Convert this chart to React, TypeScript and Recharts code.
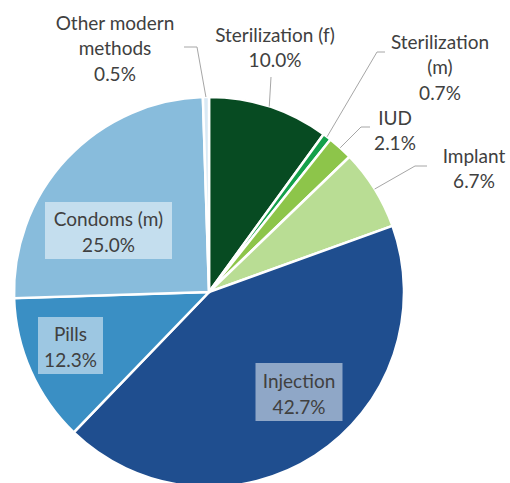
import React from 'react';
import { PieChart, Pie, Cell } from 'recharts';

// contraceptive method mix, clockwise from 12 o'clock
const methods = [
  'Sterilization (f)',
  'Sterilization (m)',
  'IUD',
  'Implant',
  'Injection',
  'Pills',
  'Condoms (m)',
  'Other modern methods',
];
const shares = [10.0, 0.7, 2.1, 6.7, 42.7, 12.3, 25.0, 0.5];
const labelText = [
  ['Sterilization (f)'],
  ['Sterilization', '(m)'],
  ['IUD'],
  ['Implant'],
  ['Injection'],
  ['Pills'],
  ['Condoms (m)'],
  ['Other modern', 'methods'],
];
const colors = ['#074b22', '#14a04a', '#8dc54a', '#b9dd94', '#1f4e8f', '#3a8fc4', '#88bcdc', '#d9e9f5'];

const data = methods.map((name, i) => ({ name, value: shares[i] }));

// label placement relative to pie centre
type Layout = {
  x: number;
  y: number;
  inside?: boolean;
  w?: number;
  h?: number;
  leader?: [number, number][];
};
const layout: Layout[] = [
  { x: 66, y: -258, leader: [[62, -215]] },
  { x: 231, y: -251, leader: [[168, -240], [176, -240]] },
  { x: 186, y: -175, leader: [[152, -165], [161, -165]] },
  { x: 265, y: -137, leader: [[206, -126], [218, -126]] },
  { x: 90, y: 100, inside: true, w: 87, h: 58 },
  { x: -138.5, y: 53.5, inside: true, w: 65, h: 57 },
  { x: -100.5, y: -61.5, inside: true, w: 127, h: 57 },
  { x: -94, y: -270, leader: [[-12, -245], [-25, -245]] },
];

const FONT = 'Lato, sans-serif';
const FONT_SIZE = 19;
const TEXT = '#404040';
const LINE_H = 25.5;
const RAD = Math.PI / 180;

const renderLabel = (props: any) => {
  const { cx, cy, midAngle, outerRadius, index, value } = props;
  const l = layout[index];
  const lines = [...labelText[index], `${value.toFixed(1)}%`];
  if (l.inside) {
    const bx = cx + l.x;
    const by = cy + l.y;
    return (
      <g key={`lbl-${index}`}>
        <rect x={bx - l.w! / 2} y={by - l.h! / 2} width={l.w} height={l.h} fill="#ffffff" fillOpacity={0.5} />
        {lines.map((t, k) => (
          <text
            key={k}
            x={bx}
            y={by - 12 + k * 26}
            textAnchor="middle"
            dominantBaseline="central"
            fontFamily={FONT}
            fontSize={FONT_SIZE}
            fill={TEXT}
          >
            {t}
          </text>
        ))}
      </g>
    );
  }
  const sx = cx + outerRadius * Math.cos(-midAngle * RAD);
  const sy = cy + outerRadius * Math.sin(-midAngle * RAD);
  const pts = [[sx, sy], ...(l.leader || []).map(([px, py]) => [cx + px, cy + py])];
  return (
    <g key={`lbl-${index}`}>
      <polyline points={pts.map((p) => p.join(',')).join(' ')} fill="none" stroke="#a6a6a6" strokeWidth={1} />
      {lines.map((t, k) => (
        <text
          key={k}
          x={cx + l.x}
          y={cy + l.y + k * LINE_H}
          textAnchor="middle"
          dominantBaseline="central"
          fontFamily={FONT}
          fontSize={FONT_SIZE}
          fill={TEXT}
        >
          {t}
        </text>
      ))}
    </g>
  );
};

export default function App() {
  return (
    <div style={{ position: 'absolute', left: 0, top: 0, width: 510, height: 483, background: '#fff' }}>
      <PieChart width={510} height={483} margin={{ top: 0, right: 0, bottom: 0, left: 0 }}>
        <Pie
          data={data}
          dataKey="value"
          nameKey="name"
          cx={209}
          cy={292}
          outerRadius={195}
          startAngle={90}
          endAngle={-270}
          stroke="#ffffff"
          strokeWidth={2.5}
          label={renderLabel}
          labelLine={false}
          isAnimationActive={false}
        >
          {data.map((d, i) => (
            <Cell key={d.name} fill={colors[i]} />
          ))}
        </Pie>
      </PieChart>
    </div>
  );
}
